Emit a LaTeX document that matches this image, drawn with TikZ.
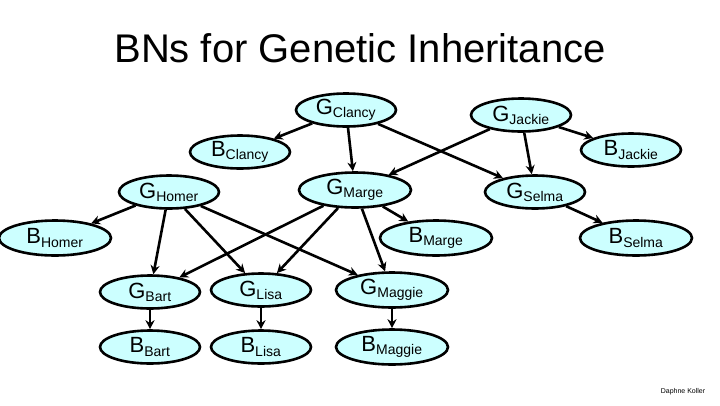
\documentclass[tikz,border=0pt]{standalone}
\usepackage{fontspec}
\setmainfont{Liberation Sans}
\usetikzlibrary{shapes.geometric, arrows.meta}
\definecolor{nodecolor}{RGB}{204, 255, 255}
\tikzset{
    % Base node
    bnnode/.style={
        ellipse, draw=black, line width=2.6pt, fill=nodecolor,
        inner sep=0pt, font=\fontsize{22}{24}\selectfont
    },
    smallnode/.style={bnnode, minimum width=100pt, minimum height=33pt},
    widenode/.style={bnnode, minimum width=112pt, minimum height=35pt},
    % Arrows
    myarrow/.style={-{Stealth[length=9pt, width=9pt]}, line width=2.6pt},
}
\newcommand{\sub}[1]{$_{\text{\fontsize{14}{15}\selectfont #1}}$}
\usepackage{amsmath}
\begin{document}
\begin{tikzpicture}[x=1pt, y=-1pt]
\useasboundingbox (0,0) rectangle (720,405);

% Title
\node (title) at (360,48) {\fontsize{40}{44}\selectfont BNs for Genetic Inheritance};

% Grandparents
\node (gclancy) [smallnode] at (346,110) {G\sub{Clancy}};
\node (gjackie) [smallnode] at (521,115) {G\sub{Jackie}};
\node (bclancy) [smallnode] at (240,152) {B\sub{Clancy}};
\node (bjackie) [smallnode] at (631,150) {B\sub{Jackie}};

% Parents
\node (ghomer) [smallnode] at (169,192) {G\sub{Homer}};
\node (gmarge) [widenode] at (355,190) {G\sub{Marge}};
\node (gselma) [smallnode] at (535,192) {G\sub{Selma}};
\node (bhomer) [widenode] at (55,238) {B\sub{Homer}};
\node (bmarge) [widenode] at (436,238) {B\sub{Marge}};
\node (bselma) [widenode] at (636,238) {B\sub{Selma}};

% Children
\node (gbart) [smallnode] at (150,292) {G\sub{Bart}};
\node (glisa) [smallnode] at (261,290) {G\sub{Lisa}};
\node (gmaggie) [widenode] at (392,290) {G\sub{Maggie}};
\node (bbart) [smallnode] at (150,347) {B\sub{Bart}};
\node (blisa) [smallnode] at (261,347) {B\sub{Lisa}};
\node (bmaggie) [widenode] at (392,347) {B\sub{Maggie}};

\node (author) at (683,392) {\fontsize{7}{8}\selectfont Daphne Koller};

% Arrows
\draw[myarrow] (gclancy) -- (bclancy);
\draw[myarrow] (gclancy) -- (gmarge);
\draw[myarrow] (gclancy) -- (gselma);
\draw[myarrow] (gjackie) -- (gmarge);
\draw[myarrow] (gjackie) -- (gselma);
\draw[myarrow] (gjackie) -- (bjackie);
\draw[myarrow] (ghomer) -- (bhomer);
\draw[myarrow] (gmarge) -- (bmarge);
\draw[myarrow] (gselma) -- (bselma);
\foreach \kid in {gbart, glisa, gmaggie} {
    \draw[myarrow] (ghomer) -- (\kid);
    \draw[myarrow] (gmarge) -- (\kid);
}
\draw[myarrow] (gbart) -- (bbart);
\draw[myarrow] (glisa) -- (blisa);
\draw[myarrow] (gmaggie) -- (bmaggie);

\end{tikzpicture}
\end{document}
